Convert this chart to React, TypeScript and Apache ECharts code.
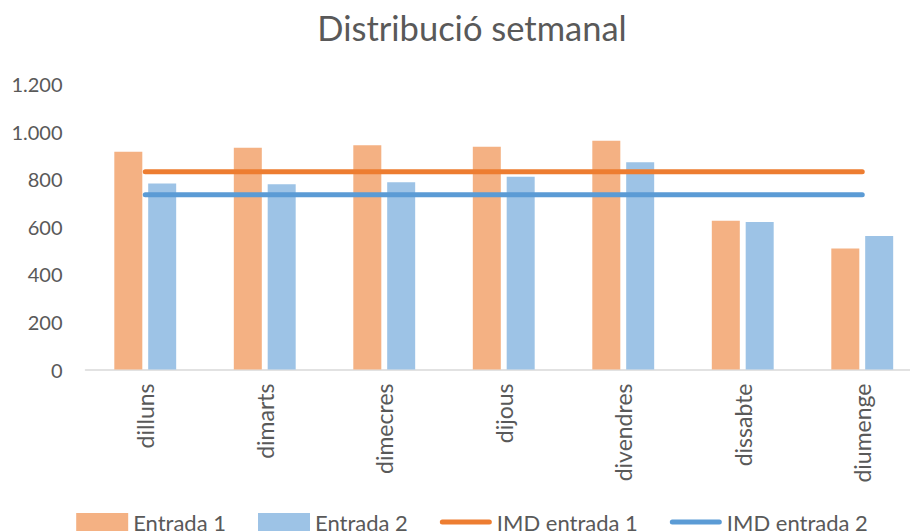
import React, { useEffect, useRef } from "react";
import * as echarts from "echarts";

const categories = ["dilluns", "dimarts", "dimecres", "dijous", "divendres", "dissabte", "diumenge"];
const entrada1 = [915, 932, 943, 936, 961, 625, 509];
const entrada2 = [782, 779, 787, 810, 871, 620, 561];
const imdEntrada1 = [831, 831, 831, 831, 831, 831, 831];
const imdEntrada2 = [734, 734, 734, 734, 734, 734, 734];
const yTicks = { min: 0, max: 1200, interval: 200 };

const FONT = "Lato";
const TEXT = "#595959";
const LINE_ICON = "path://M2.5,0 H49.5 A2.5,2.5 0 0 1 49.5,5 H2.5 A2.5,2.5 0 0 1 2.5,0 Z";

function fmt(v: number): string {
  return String(v).replace(/\B(?=(\d{3})+(?!\d))/g, ".");
}

export default function App() {
  const ref = useRef<HTMLDivElement>(null);
  useEffect(() => {
    if (!ref.current) return;
    const chart = echarts.init(ref.current, undefined, { renderer: "svg" });
    chart.setOption({
      animation: false,
      backgroundColor: "#ffffff",
      title: {
        text: "Distribució setmanal",
        left: "center",
        top: 5,
        textStyle: { fontFamily: FONT, fontSize: 34.5, fontWeight: "normal", color: TEXT },
      },
      grid: { left: 85.5, right: 22, top: 84, bottom: 161.5, containLabel: false },
      legend: {
        top: 506,
        left: "center",
        itemWidth: 52,
        itemHeight: 18,
        itemGap: 32,
        symbolKeepAspect: true,
        textStyle: { fontFamily: FONT, fontSize: 22, color: TEXT },
        data: [
          { name: "Entrada 1", icon: "rect" },
          { name: "Entrada 2", icon: "rect" },
          { name: "IMD entrada 1", icon: LINE_ICON },
          { name: "IMD entrada 2", icon: LINE_ICON },
        ],
      },
      xAxis: {
        type: "category",
        data: categories,
        boundaryGap: true,
        axisLine: { lineStyle: { color: "#D9D9D9", width: 1.5 } },
        axisTick: { show: false },
        axisLabel: { rotate: 90, margin: 14, fontFamily: FONT, fontSize: 23, color: TEXT, interval: 0 },
      },
      yAxis: {
        type: "value",
        min: yTicks.min,
        max: yTicks.max,
        interval: yTicks.interval,
        axisLine: { show: false },
        axisTick: { show: false },
        splitLine: { show: false },
        axisLabel: { margin: 23, fontFamily: FONT, fontSize: 20, color: TEXT, formatter: (v: number) => fmt(v) },
      },
      series: [
        {
          name: "Entrada 1",
          type: "bar",
          data: entrada1,
          barWidth: 28,
          barGap: "21%",
          itemStyle: { color: "#F4B183" },
        },
        {
          name: "Entrada 2",
          type: "bar",
          data: entrada2,
          barWidth: 28,
          barGap: "21%",
          itemStyle: { color: "#9DC3E6" },
        },
        {
          name: "IMD entrada 1",
          type: "line",
          data: imdEntrada1,
          symbol: "none",
          lineStyle: { color: "#ED7D31", width: 5, cap: "round" },
          itemStyle: { color: "#ED7D31" },
        },
        {
          name: "IMD entrada 2",
          type: "line",
          data: imdEntrada2,
          symbol: "none",
          lineStyle: { color: "#5B9BD5", width: 5, cap: "round" },
          itemStyle: { color: "#5B9BD5" },
        },
      ],
    });
    return () => chart.dispose();
  }, []);
  return (
    <div style={{ position: "fixed", left: 0, top: 0, width: 910, height: 531, overflow: "hidden", background: "#fff" }}>
      <div ref={ref} style={{ width: 944, height: 531 }} />
    </div>
  );
}
